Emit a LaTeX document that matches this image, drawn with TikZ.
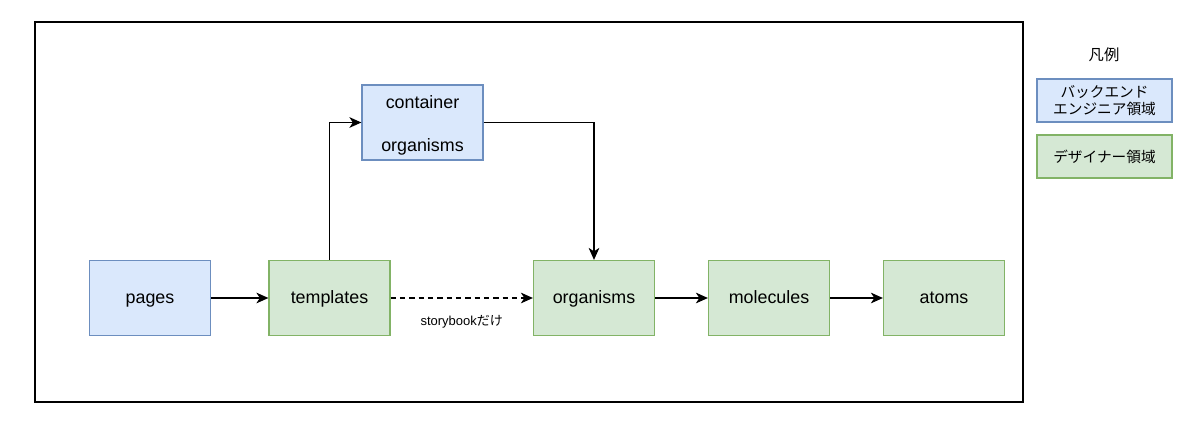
\documentclass[tikz,border=0pt]{standalone}
\usepackage{fontspec}
\setmainfont{Liberation Sans}
\newfontfamily\cjk{Noto Sans CJK JP}
\usetikzlibrary{arrows.meta}
\definecolor{bfill}{HTML}{DAE8FC}
\definecolor{bdraw}{HTML}{6C8EBF}
\definecolor{gfill}{HTML}{D5E8D4}
\definecolor{gdraw}{HTML}{82B366}
\tikzset{
  box/.style={draw, line width=0.9pt, minimum width=90.75pt, minimum height=56.25pt, inner sep=0pt, font=\fontsize{13.4}{16}\selectfont, text=black},
  bluebox/.style={box, fill=bfill, draw=bdraw},
  greenbox/.style={box, fill=gfill, draw=gdraw},
  onebox/.style={text height=1.04em, text depth=0.2em},
  legbox/.style={draw, line width=0.9pt, minimum width=101.25pt, minimum height=32.25pt, inner sep=0pt, align=center, font=\cjk\fontsize{11}{13}\selectfont},
  conn/.style={line width=1pt, -{Stealth[length=9pt,width=8pt,inset=2.6pt]}},
}
\begin{document}
\begin{tikzpicture}[x=0.75pt,y=-0.75pt]
\useasboundingbox (0,0) rectangle (1200,422);
\fill[white] (0,0) rectangle (1200,422);
\draw[line width=1pt] (35,22) rectangle (1023,402);
\node[bluebox, onebox] (pages) at (150,298) {pages};
\node[greenbox, onebox] (templates) at (329.5,298) {templates};
\node[bluebox] (container) at (422.5,122.5) {\raisebox{-2.4pt}[\height][\depth]{\begin{tabular}{@{}c@{}}container\\[16pt]organisms\end{tabular}}};
\node[greenbox, onebox] (organisms) at (594,298) {organisms};
\node[greenbox, onebox] (molecules) at (769,298) {molecules};
\node[greenbox, onebox] (atoms) at (944,298) {atoms};
\draw[conn] (pages) -- (templates);
\draw[conn] (templates.north) |- (container.west);
\draw[conn] (container.east) -| (organisms.north);
\draw[conn, dashed, dash pattern=on 4pt off 3pt] (templates) -- node[below=9pt, font=\fontsize{9.75}{12}\selectfont] (sblabel) {storybook{\cjk だけ}} (organisms);
\draw[conn] (organisms) -- (molecules);
\draw[conn] (molecules) -- (atoms);
\node[font=\cjk\fontsize{11.5}{13}\selectfont] (legtitle) at (1104,55) {凡例};
\node[legbox, fill=bfill, draw=bdraw] (legb) at (1104.5,100.5) {バックエンド\\エンジニア領域};
\node[legbox, fill=gfill, draw=gdraw] (legg) at (1104.5,156.5) {デザイナー領域};
\end{tikzpicture}
\end{document}
